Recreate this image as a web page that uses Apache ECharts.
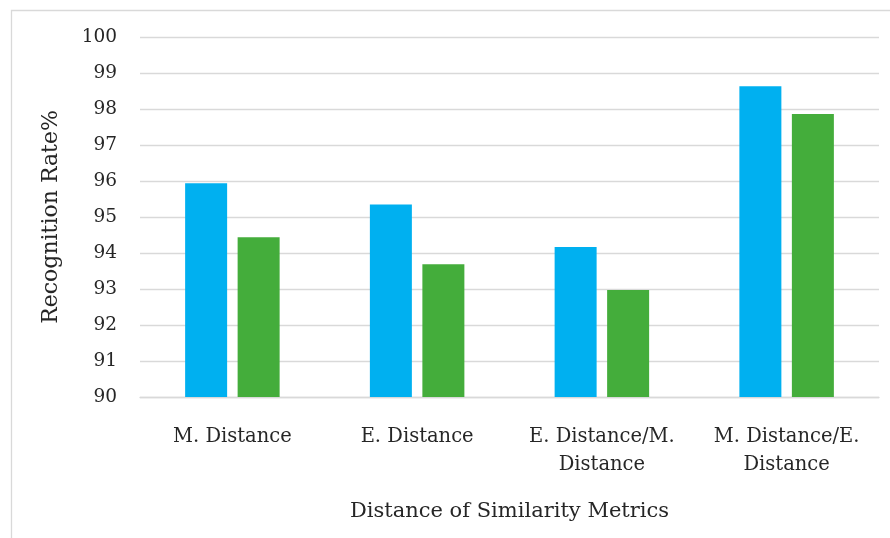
<!DOCTYPE html>
<html>
<head>
<meta charset="utf-8">
<script src="https://cdn.jsdelivr.net/npm/echarts@6/dist/echarts.min.js"></script>
<style>
  html, body { margin: 0; padding: 0; background: #ffffff; }
  #chart { width: 890px; height: 538px; }
</style>
</head>
<body>
<div id="chart"></div>
<script>
// Recognition rate for each pair of similarity metrics
const categories = ['M. Distance', 'E. Distance', 'E. Distance/M.\nDistance', 'M. Distance/E.\nDistance'];
const seriesA = [95.94, 95.35, 94.17, 98.63];
const seriesB = [94.44, 93.69, 92.97, 97.86];
const yTicks = { min: 90, max: 100, step: 1 };

const FONT = '"DejaVu Serif", "Liberation Serif", serif';
const GRID_COLOR = '#d9d9d9';

const chart = echarts.init(document.getElementById('chart'), null, { renderer: 'canvas' });

chart.setOption({
  animation: false,
  backgroundColor: '#ffffff',
  graphic: [{
    type: 'rect',
    shape: { x: 11.5, y: 10.5, width: 900, height: 600 },
    style: { fill: 'none', stroke: GRID_COLOR, lineWidth: 1.3 },
    silent: true
  }],
  grid: { left: 140, right: 11, top: 37, bottom: 141, containLabel: false },
  xAxis: {
    type: 'category',
    data: categories,
    name: 'Distance of Similarity Metrics',
    nameLocation: 'middle',
    nameGap: 104,
    nameTextStyle: { fontFamily: FONT, fontSize: 21, color: '#262626' },
    axisLine: { show: true, lineStyle: { color: GRID_COLOR, width: 1.3 } },
    axisTick: { show: false },
    axisLabel: {
      fontFamily: FONT, fontSize: 19.5, color: '#262626',
      margin: 26, lineHeight: 28, interval: 0
    }
  },
  yAxis: {
    type: 'value',
    min: yTicks.min,
    max: yTicks.max,
    interval: yTicks.step,
    name: 'Recognition Rate%',
    nameLocation: 'middle',
    nameGap: 78,
    nameTextStyle: { fontFamily: FONT, fontSize: 22, color: '#262626' },
    axisLine: { show: false },
    axisTick: { show: false },
    axisLabel: { fontFamily: FONT, fontSize: 18.5, color: '#262626', margin: 23 },
    splitLine: { show: true, lineStyle: { color: GRID_COLOR, width: 1.3 } }
  },
  series: [
    {
      type: 'bar',
      data: seriesA,
      barWidth: 42,
      barGap: '25%',
      itemStyle: { color: '#00B0F0' }
    },
    {
      type: 'bar',
      data: seriesB,
      barWidth: 42,
      barGap: '25%',
      itemStyle: { color: '#44AD3B' }
    }
  ]
});
</script>
</body>
</html>
